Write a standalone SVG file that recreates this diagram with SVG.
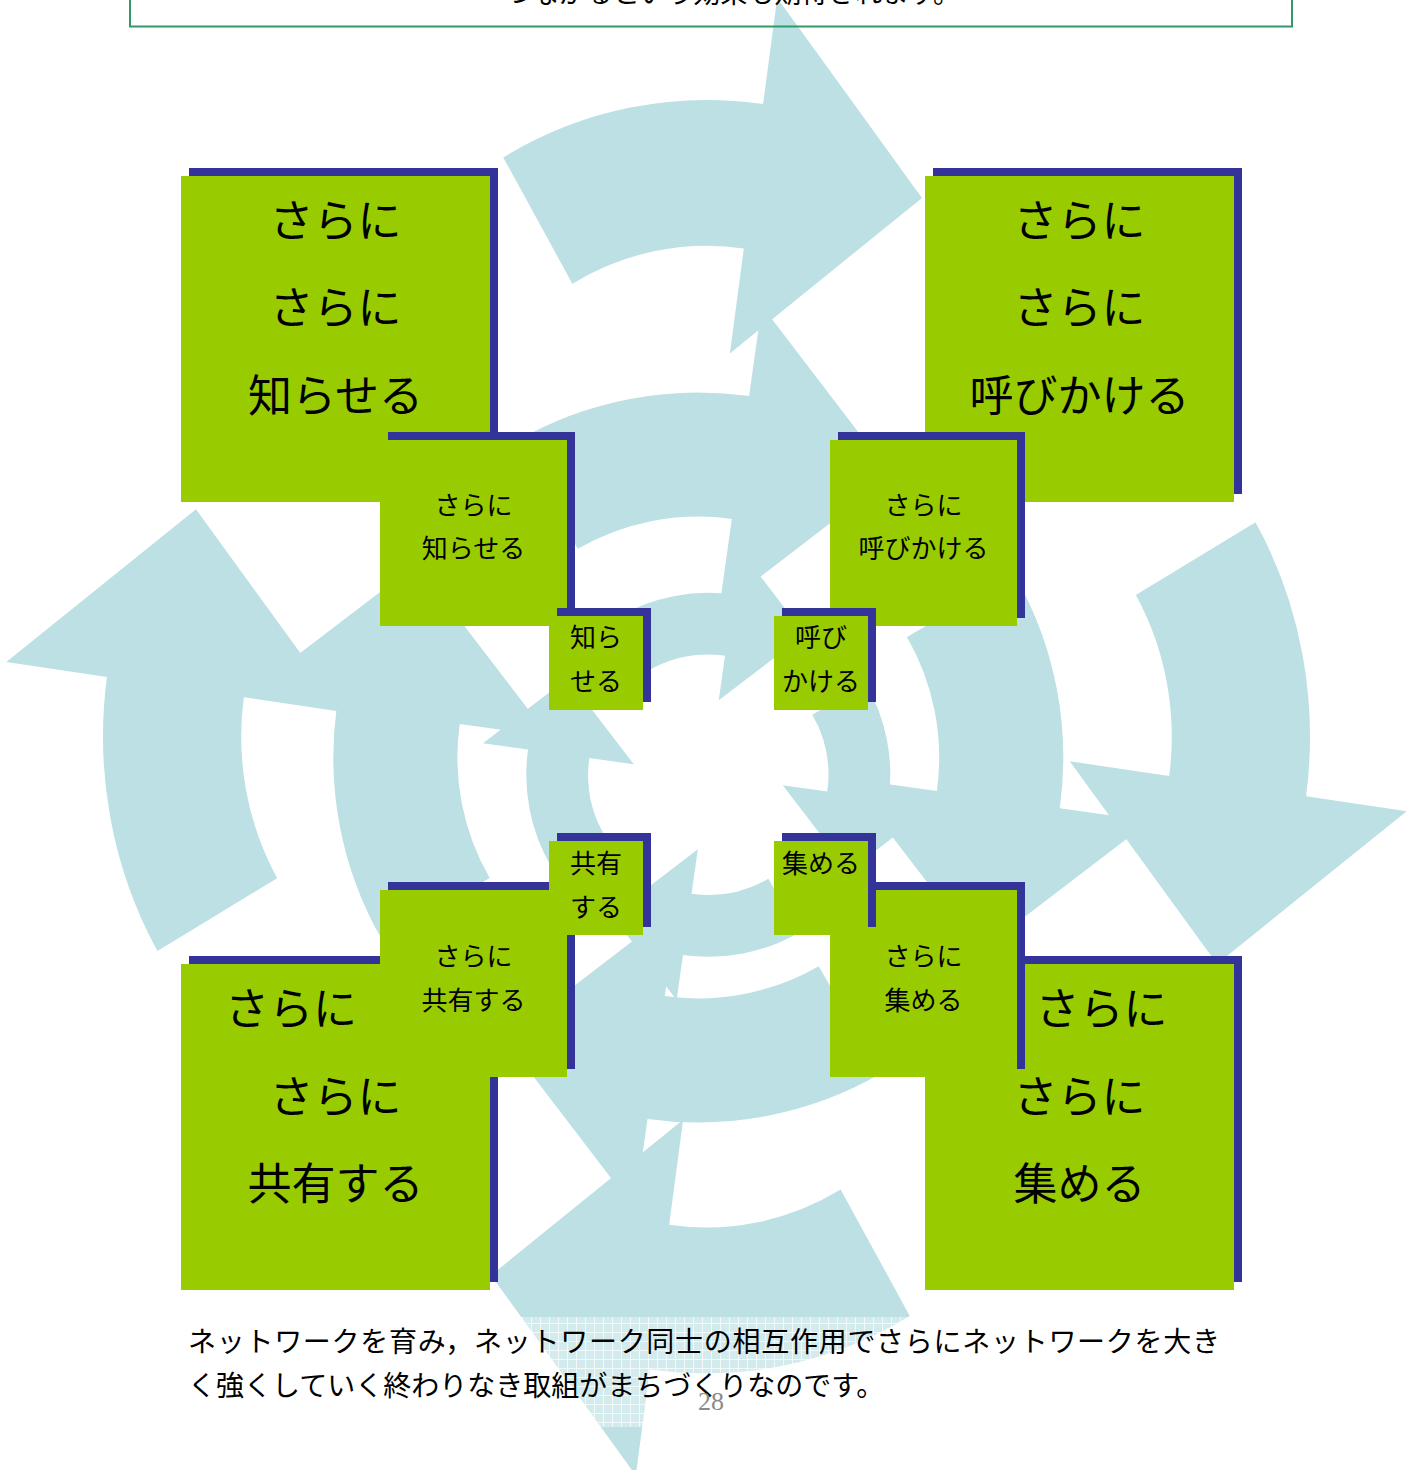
<svg xmlns="http://www.w3.org/2000/svg" width="1419" height="1470" viewBox="0 0 1419 1470">
<style>
.arr{fill:#BCE0E3}
.g{fill:#99CC00}
.s{fill:#333399}
.t{font-family:"Noto Sans CJK JP","Noto Sans",sans-serif;fill:#000;text-anchor:middle}
.big{font-size:44px}
.mid{font-size:26px}
.sm{font-size:26px}
.body{font-family:"Noto Sans CJK JP","Noto Sans",sans-serif;font-size:28px;fill:#000}
</style>
<defs>
<path id="arrow" d="M-500,-866.03 A1000,1000 0 0 1 139.17,-990.27 L173.97,-1237.83 L530.16,-771.38 L57.48,-408.98 L91.85,-653.58 A660,660 0 0 0 -330,-571.58 Z"/>
<pattern id="grid" width="9" height="9" patternUnits="userSpaceOnUse">
<rect width="9" height="9" fill="#fff" fill-opacity="0.35"/>
<path d="M0 0.5H9M0.5 0V9" stroke="#fff" stroke-opacity="0.7" stroke-width="1"/>
</pattern>
</defs>
<rect width="1419" height="1470" fill="#fff"/>

<g id="connectors">
<g id="ring-outer" class="arr" transform="matrix(1 0 0 1.055 0 -40.37)">
<use href="#arrow" transform="translate(706.5 736.5) rotate(0) translate(0 -197) scale(0.4065)"/>
<use href="#arrow" transform="translate(706.5 736.5) rotate(90) translate(0 -197) scale(0.4065)"/>
<use href="#arrow" transform="translate(706.5 736.5) rotate(180) translate(0 -197) scale(0.4065)"/>
<use href="#arrow" transform="translate(706.5 736.5) rotate(270) translate(0 -197) scale(0.4065)"/>
</g>
<g id="ring-middle" class="arr">
<use href="#arrow" transform="translate(698.3 757.5) rotate(0) scale(0.365)"/>
<use href="#arrow" transform="translate(698.3 757.5) rotate(90) scale(0.365)"/>
<use href="#arrow" transform="translate(698.3 757.5) rotate(180) scale(0.365)"/>
<use href="#arrow" transform="translate(698.3 757.5) rotate(270) scale(0.365)"/>
</g>
<g id="ring-inner" class="arr">
<use href="#arrow" transform="translate(708.3 774.8) rotate(0) scale(0.182)"/>
<use href="#arrow" transform="translate(708.3 774.8) rotate(90) scale(0.182)"/>
<use href="#arrow" transform="translate(708.3 774.8) rotate(180) scale(0.182)"/>
<use href="#arrow" transform="translate(708.3 774.8) rotate(270) scale(0.182)"/>
</g>
</g>

<g id="top-note">
<rect x="130" y="-40" width="1162" height="66.5" fill="none" stroke="#339966" stroke-width="2"/>
<text x="505" y="3" font-family="Noto Sans CJK JP, sans-serif" font-size="27" textLength="455" lengthAdjust="spacing">つながるという効果も期待されます。</text>
</g>

<g id="box-big-tl">
<rect class="s" x="189" y="168" width="309" height="326"/>
<rect class="g" x="181" y="176" width="309" height="326"/>
<text class="t big" x="335.5" y="236.7">さらに</text>
<text class="t big" x="335.5" y="323.7">さらに</text>
<text class="t big" x="335.5" y="411.7">知らせる</text>
</g>
<g id="box-big-tr">
<rect class="s" x="933" y="168" width="309" height="326"/>
<rect class="g" x="925" y="176" width="309" height="326"/>
<text class="t big" x="1079.5" y="236.7">さらに</text>
<text class="t big" x="1079.5" y="323.7">さらに</text>
<text class="t big" x="1079.5" y="411.7">呼びかける</text>
</g>
<g id="box-big-bl">
<rect class="s" x="189" y="956" width="309" height="326"/>
<rect class="g" x="181" y="964" width="309" height="326"/>
<text class="t big" x="291" y="1024.7">さらに</text>
<text class="t big" x="335.5" y="1112.7">さらに</text>
<text class="t big" x="335.5" y="1199.7">共有する</text>
</g>
<g id="box-big-br">
<rect class="s" x="933" y="956" width="309" height="326"/>
<rect class="g" x="925" y="964" width="309" height="326"/>
<text class="t big" x="1101.5" y="1024.7">さらに</text>
<text class="t big" x="1079.5" y="1112.7">さらに</text>
<text class="t big" x="1079.5" y="1199.7">集める</text>
</g>

<g id="box-mid-tl">
<rect class="s" x="388" y="432" width="187" height="186"/>
<rect class="g" x="380" y="440" width="187" height="186"/>
<text class="t mid" x="473.5" y="514.9">さらに</text>
<text class="t mid" x="473.5" y="557.9">知らせる</text>
</g>
<g id="box-mid-tr">
<rect class="s" x="838" y="432" width="187" height="186"/>
<rect class="g" x="830" y="440" width="187" height="186"/>
<text class="t mid" x="923.5" y="514.9">さらに</text>
<text class="t mid" x="923.5" y="557.9">呼びかける</text>
</g>
<g id="box-mid-bl">
<rect class="s" x="388" y="882" width="187" height="187"/>
<rect class="g" x="380" y="890" width="187" height="187"/>
<text class="t mid" x="473.5" y="965.9">さらに</text>
<text class="t mid" x="473.5" y="1009.9">共有する</text>
</g>
<g id="box-mid-br">
<rect class="s" x="838" y="882" width="187" height="187"/>
<rect class="g" x="830" y="890" width="187" height="187"/>
<text class="t mid" x="923.5" y="965.9">さらに</text>
<text class="t mid" x="923.5" y="1009.9">集める</text>
</g>

<g id="box-sm-tl">
<rect class="s" x="557" y="608" width="94" height="94"/>
<rect class="g" x="549" y="616" width="94" height="94"/>
<text class="t sm" x="596" y="646.9">知ら</text>
<text class="t sm" x="596" y="690.9">せる</text>
</g>
<g id="box-sm-tr">
<rect class="s" x="782" y="608" width="94" height="94"/>
<rect class="g" x="774" y="616" width="94" height="94"/>
<text class="t sm" x="821" y="646.9">呼び</text>
<text class="t sm" x="821" y="690.9">かける</text>
</g>
<g id="box-sm-bl">
<rect class="s" x="557" y="833" width="94" height="94"/>
<rect class="g" x="549" y="841" width="94" height="94"/>
<text class="t sm" x="596" y="872.9">共有</text>
<text class="t sm" x="596" y="916.9">する</text>
</g>
<g id="box-sm-br">
<rect class="s" x="782" y="833" width="94" height="94"/>
<rect class="g" x="774" y="841" width="94" height="94"/>
<text class="t sm" x="821" y="872.9">集める</text>
</g>

<g id="caption">
<rect x="180" y="1317" width="1060" height="110" fill="url(#grid)"/>
<text class="body" x="188" y="1351.6" textLength="1032" lengthAdjust="spacing">ネットワークを育み，ネットワーク同士の相互作用でさらにネットワークを大き</text>
<text class="body" x="188" y="1395.6">く強くしていく終わりなき取組がまちづくりなのです。</text>
<text x="711" y="1410" font-family="Liberation Serif, serif" font-size="26" fill="#8a8a8a" text-anchor="middle">28</text>
</g>
</svg>
